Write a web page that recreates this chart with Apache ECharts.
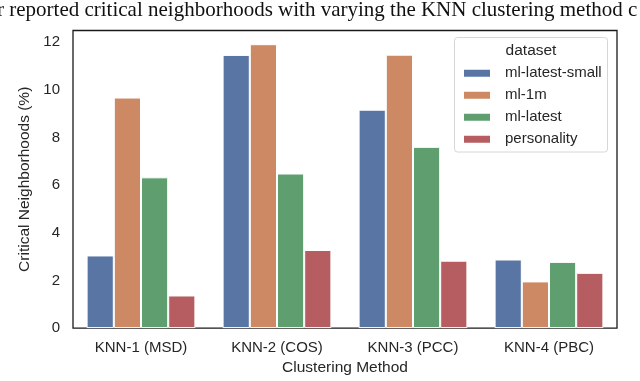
<!DOCTYPE html>
<html>
<head>
<meta charset="utf-8">
<script src="https://cdn.jsdelivr.net/npm/echarts@6/dist/echarts.min.js"></script>
<style>html,body{margin:0;padding:0;background:#fff;}#c{width:640px;height:381px;}</style>
</head>
<body>
<div id="c"></div>
<script>
var categories = ['KNN-1 (MSD)', 'KNN-2 (COS)', 'KNN-3 (PCC)', 'KNN-4 (PBC)'];
var seriesNames = ['ml-latest-small', 'ml-1m', 'ml-latest', 'personality'];
var mlLatestSmall = [3.05, 11.47, 9.17, 2.88];
var ml1m = [9.68, 11.92, 11.48, 1.96];
var mlLatest = [6.33, 6.49, 7.61, 2.78];
var personality = [1.37, 3.28, 2.83, 2.32];
var yTicks = [0, 2, 4, 6, 8, 10, 12];
var colors = ['#5975a4', '#cc8963', '#5f9e6e', '#b55d60'];

var values = [mlLatestSmall, ml1m, mlLatest, personality];
var chart = echarts.init(document.getElementById('c'), null, {renderer: 'canvas'});
var txt = '#262626';
var fontFam = 'Liberation Sans, Arial, sans-serif';
chart.setOption({
  animation: false,
  backgroundColor: '#fff',
  color: colors,
  grid: {left: 73, right: 23, top: 30.5, bottom: 49.5, show: true, borderColor: '#1a1a1a', borderWidth: 1.3, backgroundColor: 'transparent'},
  xAxis: {
    type: 'category', data: categories,
    name: 'Clustering Method', nameLocation: 'middle', nameGap: 31,
    nameTextStyle: {color: txt, fontSize: 15.5, fontFamily: fontFam},
    axisLine: {show: false}, axisTick: {show: false},
    axisLabel: {color: txt, fontSize: 15, fontFamily: fontFam, margin: 12}
  },
  yAxis: {
    type: 'value', min: 0, max: 12.495, interval: 2,
    name: 'Critical Neighborhoods (%)', nameLocation: 'middle', nameGap: 36,
    nameTextStyle: {color: txt, fontSize: 15.5, fontFamily: fontFam},
    axisLine: {show: false}, axisTick: {show: false}, splitLine: {show: false},
    axisLabel: {color: txt, fontSize: 15, fontFamily: fontFam, margin: 13,
      formatter: function (v) { return yTicks.indexOf(v) >= 0 ? String(v) : ''; }}
  },
  legend: {
    orient: 'vertical', left: 457, top: 60, itemWidth: 28, itemHeight: 9,
    itemGap: 5.5, icon: 'rect', z: 10,
    data: seriesNames,
    textStyle: {color: txt, fontSize: 15, fontFamily: fontFam, lineHeight: 16.5, padding: [0, 0, 0, 9]}
  },
  graphic: [
    {type: 'rect', z: 5, shape: {x: 454.5, y: 37.5, width: 153, height: 114.5, r: 3},
      style: {fill: 'rgba(255,255,255,0.85)', stroke: '#d6d6d6', lineWidth: 1}},
    {type: 'text', z: 11, style: {text: 'dataset', x: 531, y: 50.5, align: 'center', verticalAlign: 'middle',
      fill: txt, font: '15.5px ' + fontFam}},
    {type: 'text', z: 11, style: {text: 'r reported critical neighborhoods with varying the KNN clustering method c', x: -3, y: 0,
      fill: '#111', font: '21px "Liberation Serif", serif'}}
  ],
  series: seriesNames.map(function (n, i) {
    return {
      name: n, type: 'bar', data: values[i],
      barGap: '0%', barCategoryGap: '20%',
      itemStyle: {color: colors[i], borderColor: '#fff', borderWidth: 1}
    };
  })
});
</script>
</body>
</html>
